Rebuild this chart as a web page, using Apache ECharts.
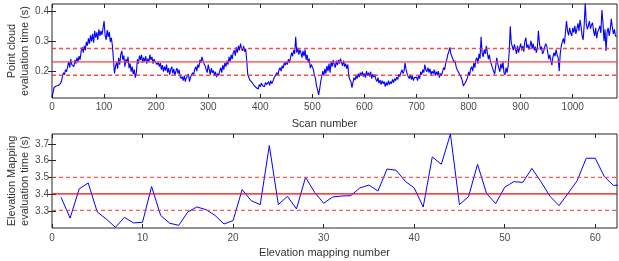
<!DOCTYPE html>
<html><head><meta charset="utf-8">
<script src="https://cdn.jsdelivr.net/npm/echarts@6/dist/echarts.min.js"></script>
<style>html,body{margin:0;padding:0;background:#fff}#c{width:619px;height:261px}</style>
</head><body><div id="c"></div>
<script>
// ---- Top: point cloud evaluation time; each row = 50 scans, sampled every 2 scans ----
const scanStep = 2, rowSpan = 50;
const pointCloudRows = [
[0.112,0.128,0.145,0.140,0.150,0.146,0.152,0.148,0.158,0.165,0.182,0.195,0.188,0.205,0.198,0.215,0.232,0.212,0.240,0.222,0.228,0.215,0.238,0.225,0.245],
[0.232,0.250,0.238,0.268,0.280,0.262,0.285,0.270,0.298,0.285,0.310,0.292,0.320,0.300,0.325,0.295,0.335,0.312,0.330,0.305,0.340,0.318,0.335,0.322,0.345],
[0.368,0.320,0.305,0.338,0.315,0.332,0.298,0.312,0.285,0.280,0.192,0.215,0.230,0.208,0.245,0.222,0.255,0.268,0.238,0.252,0.215,0.240,0.228,0.248,0.210],
[0.225,0.198,0.215,0.190,0.205,0.178,0.195,0.240,0.225,0.252,0.238,0.255,0.228,0.245,0.232,0.250,0.225,0.242,0.230,0.255,0.238,0.248,0.225,0.240,0.232],
[0.238,0.222,0.230,0.215,0.228,0.205,0.220,0.198,0.215,0.202,0.222,0.195,0.210,0.188,0.205,0.215,0.192,0.208,0.185,0.200,0.210,0.192,0.205,0.182,0.175],
[0.182,0.168,0.185,0.165,0.178,0.172,0.190,0.165,0.180,0.175,0.195,0.188,0.205,0.215,0.200,0.222,0.212,0.238,0.228,0.248,0.235,0.225,0.218,0.205,0.195],
[0.222,0.205,0.188,0.210,0.195,0.202,0.185,0.198,0.180,0.192,0.185,0.200,0.212,0.195,0.220,0.205,0.228,0.215,0.235,0.222,0.248,0.232,0.255,0.240,0.262],
[0.270,0.252,0.280,0.262,0.285,0.270,0.292,0.275,0.268,0.285,0.265,0.275,0.235,0.188,0.182,0.170,0.175,0.162,0.165,0.152,0.158,0.145,0.150,0.140,0.155],
[0.148,0.160,0.152,0.158,0.148,0.162,0.155,0.150,0.165,0.152,0.168,0.158,0.165,0.175,0.182,0.178,0.195,0.188,0.205,0.212,0.200,0.218,0.210,0.228,0.220],
[0.232,0.222,0.240,0.228,0.245,0.262,0.250,0.270,0.258,0.315,0.262,0.278,0.255,0.272,0.262,0.245,0.268,0.250,0.272,0.238,0.255,0.228,0.242,0.210,0.222],
[0.228,0.205,0.185,0.175,0.150,0.138,0.120,0.140,0.165,0.182,0.200,0.185,0.208,0.192,0.218,0.200,0.225,0.195,0.232,0.215,0.238,0.222,0.212,0.235,0.220],
[0.238,0.225,0.242,0.228,0.218,0.235,0.215,0.225,0.208,0.222,0.182,0.172,0.165,0.145,0.162,0.178,0.170,0.185,0.175,0.192,0.180,0.195,0.185,0.198,0.182],
[0.192,0.178,0.200,0.185,0.195,0.182,0.198,0.175,0.190,0.180,0.188,0.172,0.165,0.178,0.160,0.170,0.155,0.168,0.158,0.165,0.148,0.162,0.152,0.168,0.155],
[0.165,0.158,0.172,0.162,0.175,0.168,0.180,0.172,0.190,0.182,0.195,0.205,0.192,0.200,0.228,0.205,0.190,0.182,0.175,0.188,0.172,0.185,0.168,0.178,0.172],
[0.180,0.168,0.185,0.175,0.198,0.188,0.205,0.195,0.222,0.205,0.198,0.212,0.195,0.208,0.188,0.200,0.192,0.205,0.185,0.198,0.188,0.200,0.178,0.192,0.185],
[0.198,0.212,0.205,0.225,0.238,0.255,0.265,0.280,0.258,0.262,0.240,0.228,0.235,0.215,0.205,0.210,0.192,0.188,0.178,0.168,0.150,0.145,0.162,0.158,0.178],
[0.198,0.185,0.208,0.215,0.200,0.228,0.212,0.238,0.245,0.225,0.258,0.242,0.315,0.262,0.248,0.272,0.258,0.285,0.262,0.240,0.255,0.230,0.222,0.210,0.200],
[0.190,0.215,0.245,0.225,0.210,0.198,0.225,0.208,0.232,0.195,0.188,0.212,0.195,0.218,0.265,0.350,0.295,0.282,0.270,0.290,0.275,0.258,0.285,0.262,0.278],
[0.292,0.270,0.285,0.265,0.300,0.312,0.278,0.290,0.272,0.285,0.302,0.275,0.292,0.270,0.282,0.262,0.275,0.335,0.295,0.272,0.282,0.258,0.265,0.280,0.292],
[0.285,0.262,0.240,0.255,0.235,0.220,0.248,0.262,0.250,0.272,0.255,0.245,0.200,0.258,0.285,0.298,0.310,0.292,0.330,0.368,0.335,0.320,0.345,0.328,0.318],
[0.345,0.330,0.352,0.325,0.342,0.360,0.335,0.372,0.350,0.318,0.305,0.355,0.428,0.360,0.340,0.352,0.368,0.342,0.355,0.362,0.335,0.318,0.345,0.310,0.332],
[0.340,0.352,0.328,0.405,0.365,0.300,0.340,0.268,0.332,0.345,0.318,0.338,0.375,0.348,0.325,0.340,0.318,0.315]
];
const pcStats = [0.186, 0.231, 0.276];      // mean - std, mean, mean + std
const scanTicks = [0,100,200,300,400,500,600,700,800,900,1000];
const pcTicks = [0.2, 0.3, 0.4];

// ---- Bottom: elevation mapping evaluation time, numbers 1..63 ----
const elevTimes = [
3.382,3.259,3.432,3.467,3.295,3.253,3.204,3.263,3.230,3.234,
3.446,3.275,3.228,3.216,3.295,3.325,3.309,3.275,3.224,3.244,
3.428,3.362,3.339,3.689,3.339,3.388,3.313,3.501,3.412,3.347,
3.384,3.390,3.392,3.438,3.455,3.420,3.550,3.543,3.478,3.438,
3.325,3.622,3.578,3.758,3.339,3.386,3.578,3.404,3.345,3.442,
3.475,3.471,3.554,3.475,3.388,3.333,3.406,3.481,3.614,3.614,
3.505,3.453,3.455
];
const elStats = [3.305, 3.403, 3.501];
const elevTicksX = [0,10,20,30,40,50,60];
const elevTicksY = [3.3,3.4,3.5,3.6,3.7];

const pcRange = [0, 1085], pcYRange = [0.11, 0.425];
const elRange = [0, 62.4], elYRange = [3.2, 3.758];

const pcData = [];
pointCloudRows.forEach((row,k)=>row.forEach((v,j)=>pcData.push([k*rowSpan + j*scanStep, v])));
const elData = elevTimes.map((v,i)=>[i+1, v]);

const FONT = '"Liberation Sans", Arial, sans-serif';
const tickLbl = {fontSize:10, color:'#4a4a4a', fontFamily:FONT, formatter:v=>String(+v.toFixed(2))};
const nameStyle = {fontSize:11, color:'#333', fontFamily:FONT, lineHeight:13};

function xAx(grid, rng, ticks, name, pos, margin, gap){
  const main = pos === 'bottom';
  return {type:'value', gridIndex:grid, min:rng[0], max:rng[1], position:pos,
    axisLine:{show:false}, splitLine:{show:false},
    axisTick:{show:true, inside:true, length:4, customValues:ticks, lineStyle:{color:'#262626'}},
    axisLabel:{show:main, customValues:ticks, margin, ...tickLbl},
    name: main ? name : '', nameLocation:'middle', nameGap:gap, nameMoveOverlap:false,
    nameTextStyle:{...nameStyle, padding:[0,20,0,0]}};
}
function yAx(grid, rng, ticks, name, pos, gap){
  const main = pos === 'left';
  return {type:'value', gridIndex:grid, min:rng[0], max:rng[1], position:pos,
    axisLine:{show:false}, splitLine:{show:false},
    axisTick:{show:true, inside:true, length:4, customValues:ticks, lineStyle:{color:'#262626'}},
    axisLabel:{show:main, customValues:ticks, margin:3, ...tickLbl},
    name: main ? name : '', nameLocation:'middle', nameGap:gap, nameRotate:90, nameMoveOverlap:false,
    nameTextStyle:{...nameStyle, align:'center'}};
}
function hLine(xi, yi, rng, y, color, dashed, w){
  return {type:'line', xAxisIndex:xi, yAxisIndex:yi, silent:true, z:5,
    data:[[rng[0], y],[rng[1], y]], showSymbol:false, symbol:'none', color:color,
    lineStyle:{color:color, width:w, type: dashed ? [4,3] : 'solid'}};
}

const chart = echarts.init(document.getElementById('c'), null, {renderer:'canvas'});
chart.setOption({
  animation:false,
  backgroundColor:'#fff',
  grid:[
    {left:52, right:2, top:4, height:94, show:true, borderColor:'#262626', borderWidth:1, backgroundColor:'transparent', outerBoundsMode:'none', containLabel:false},
    {left:52, right:2, top:134, height:94, show:true, borderColor:'#262626', borderWidth:1, backgroundColor:'transparent', outerBoundsMode:'none', containLabel:false}
  ],
  xAxis:[
    xAx(0, pcRange, scanTicks, 'Scan number', 'bottom', 4, 19),
    xAx(1, elRange, elevTicksX, 'Elevation mapping number', 'bottom', 5, 18),
    xAx(0, pcRange, scanTicks, '', 'top', 4, 19),
    xAx(1, elRange, elevTicksX, '', 'top', 5, 18)
  ],
  yAxis:[
    yAx(0, pcYRange, pcTicks, 'Point cloud\nevaluation time (s)', 'left', 21),
    yAx(1, elYRange, elevTicksY, 'Elevation Mapping\nevaluation time (s)', 'left', 21),
    yAx(0, pcYRange, pcTicks, '', 'right', 21),
    yAx(1, elYRange, elevTicksY, '', 'right', 21)
  ],
  series:[
    {type:'line', xAxisIndex:0, yAxisIndex:0, data:pcData, showSymbol:false, symbol:'none',
     lineStyle:{color:'#0000ff', width:1.1}, clip:true, z:3},
    {type:'line', xAxisIndex:1, yAxisIndex:1, data:elData, showSymbol:false, symbol:'none',
     lineStyle:{color:'#0000ff', width:1}, clip:true, z:3},
    hLine(0,0,pcRange,pcStats[0],'rgba(255,40,40,0.85)',true,1.5),
    hLine(0,0,pcRange,pcStats[1],'rgba(255,70,70,0.75)',false,1.8),
    hLine(0,0,pcRange,pcStats[2],'rgba(255,40,40,0.85)',true,1.5),
    hLine(1,1,elRange,elStats[0],'rgba(255,60,60,0.85)',true,1.3),
    hLine(1,1,elRange,elStats[1],'#ff0000',false,1.3),
    hLine(1,1,elRange,elStats[2],'rgba(255,60,60,0.85)',true,1.3)
  ]
});
</script></body></html>
